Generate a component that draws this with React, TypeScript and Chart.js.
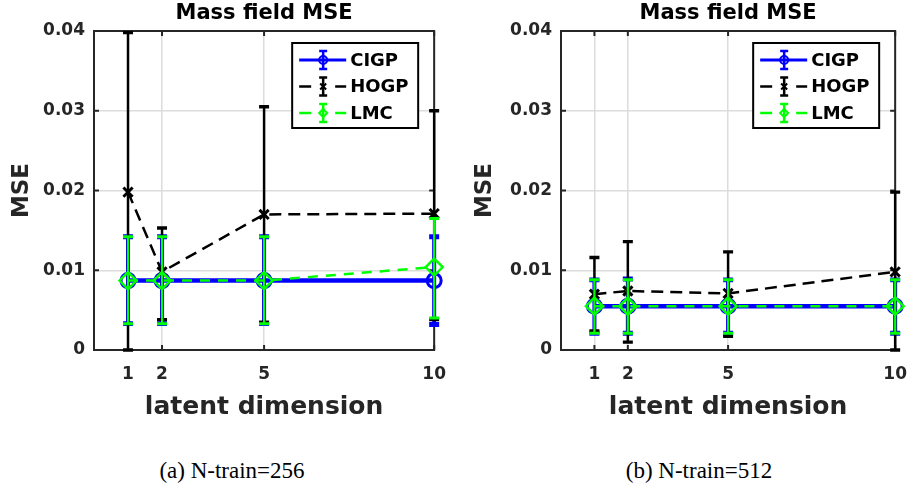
import React, { useEffect, useRef } from 'react';
import { Chart, registerables } from 'chart.js';

Chart.register(...registerables);

// ---------------- data ----------------
const latentDims = [1, 2, 5, 10];
const xTickValues = [1, 2, 5, 10];
const seriesNames = ['CIGP', 'HOGP', 'LMC'];
const chartTitle = 'Mass field MSE';
const xAxisTitle = 'latent dimension';
const yAxisTitle = 'MSE';

// N-train = 256
const cigp256Mean = [0.0087, 0.0087, 0.0087, 0.0087];
const cigp256Low = [0.0033, 0.0033, 0.0033, 0.0032];
const cigp256High = [0.0142, 0.0142, 0.0142, 0.0142];
const hogp256Mean = [0.0198, 0.0098, 0.017, 0.0171];
const hogp256Low = [0.0, 0.0038, 0.0035, 0.0038];
const hogp256High = [0.0398, 0.0153, 0.0305, 0.03];
const lmc256Mean = [0.0087, 0.0087, 0.0087, 0.0104];
const lmc256Low = [0.0033, 0.0033, 0.0033, 0.004];
const lmc256High = [0.0142, 0.0142, 0.0142, 0.0165];

// N-train = 512
const cigp512Mean = [0.0055, 0.0055, 0.0055, 0.0055];
const cigp512Low = [0.0021, 0.0021, 0.0021, 0.0021];
const cigp512High = [0.0088, 0.0089, 0.0088, 0.0088];
const hogp512Mean = [0.007, 0.0074, 0.0071, 0.0098];
const hogp512Low = [0.0024, 0.001, 0.0017, 0.0];
const hogp512High = [0.0116, 0.0136, 0.0123, 0.0198];
const lmc512Mean = [0.0055, 0.0055, 0.0055, 0.0055];
const lmc512Low = [0.0021, 0.0021, 0.0021, 0.0021];
const lmc512High = [0.0088, 0.0088, 0.0088, 0.0088];

const captionA = '(a) N-train=256';
const captionB = '(b) N-train=512';

// ---------------- styling ----------------
const FONT = "'DejaVu Sans', sans-serif";
const CANVAS_H = 430;
const STYLES = [
  { color: '#0000ff', width: 4.5, errWidth: 4, dashed: false, dash: [] as number[], point: 'circle', radius: 7, pbw: 3, order: 2 },
  { color: '#000000', width: 2.5, errWidth: 2.5, dashed: true, dash: [12, 7], point: 'crossRot', radius: 6.5, pbw: 3, order: 1 },
  { color: '#00ff00', width: 2.5, errWidth: 2.2, dashed: true, dash: [10, 8], point: 'rectRot', radius: 8.5, pbw: 2.5, order: 0 },
];

type Series = { mean: number[]; low: number[]; high: number[] };

function drawMarker(ctx: CanvasRenderingContext2D, style: string, x: number, y: number, r: number) {
  ctx.beginPath();
  if (style === 'circle') {
    ctx.arc(x, y, r, 0, Math.PI * 2);
  } else if (style === 'rectRot') {
    ctx.moveTo(x, y - r);
    ctx.lineTo(x + r, y);
    ctx.lineTo(x, y + r);
    ctx.lineTo(x - r, y);
    ctx.closePath();
  } else {
    const d = r * 0.75;
    ctx.moveTo(x - d, y - d);
    ctx.lineTo(x + d, y + d);
    ctx.moveTo(x + d, y - d);
    ctx.lineTo(x - d, y + d);
  }
  ctx.stroke();
}

const errorBarPlugin = {
  id: 'errorBars',
  afterDatasetDraw(chart: any, args: any) {
    const ds = chart.data.datasets[args.index];
    const ys = chart.scales.y;
    const ctx = chart.ctx as CanvasRenderingContext2D;
    ctx.save();
    ctx.strokeStyle = ds.borderColor;
    ctx.setLineDash([]);
    args.meta.data.forEach((pt: any, i: number) => {
      const x = pt.x;
      const yHi = ys.getPixelForValue(ds.errHigh[i]);
      const yLo = ys.getPixelForValue(ds.errLow[i]);
      ctx.lineWidth = ds.errWidth;
      ctx.beginPath();
      ctx.moveTo(x, yLo);
      ctx.lineTo(x, yHi);
      ctx.stroke();
      ctx.lineWidth = ds.errWidth + 0.8;
      ctx.beginPath();
      ctx.moveTo(x - 5, yLo);
      ctx.lineTo(x + 5, yLo);
      ctx.moveTo(x - 5, yHi);
      ctx.lineTo(x + 5, yHi);
      ctx.stroke();
    });
    ctx.restore();
  },
};

const framePlugin = {
  id: 'frame',
  beforeDatasetsDraw(chart: any) {
    const { ctx, chartArea } = chart;
    const { left, right, top, bottom } = chartArea;
    ctx.save();
    ctx.strokeStyle = '#262626';
    ctx.lineWidth = 2;
    ctx.setLineDash([]);
    ctx.strokeRect(left, top, right - left, bottom - top);
    const tl = 5;
    ctx.beginPath();
    chart.scales.x.ticks.forEach((t: any) => {
      const x = chart.scales.x.getPixelForValue(t.value);
      ctx.moveTo(x, bottom);
      ctx.lineTo(x, bottom - tl);
      ctx.moveTo(x, top);
      ctx.lineTo(x, top + tl);
    });
    chart.scales.y.ticks.forEach((t: any) => {
      const y = chart.scales.y.getPixelForValue(t.value);
      ctx.moveTo(left, y);
      ctx.lineTo(left + tl, y);
      ctx.moveTo(right, y);
      ctx.lineTo(right - tl, y);
    });
    ctx.stroke();
    ctx.restore();
  },
};

const overlayPlugin = {
  id: 'overlay',
  afterDraw(chart: any) {
    const { ctx, chartArea } = chart;
    ctx.save();
    // title
    ctx.fillStyle = '#000';
    ctx.font = `bold 21px ${FONT}`;
    ctx.textAlign = 'center';
    ctx.textBaseline = 'middle';
    ctx.fillText(chartTitle, (chartArea.left + chartArea.right) / 2, 14);

    // legend
    const w = 126;
    const h = 85;
    const x0 = chartArea.right - 16 - w;
    const y0 = chartArea.top + 12;
    ctx.fillStyle = '#fff';
    ctx.fillRect(x0, y0, w, h);
    ctx.strokeStyle = '#000';
    ctx.lineWidth = 2;
    ctx.strokeRect(x0, y0, w, h);
    chart.data.datasets.forEach((ds: any, k: number) => {
      const st = STYLES[k];
      const y = y0 + 17 + k * 26.5;
      const mx = x0 + 31;
      ctx.strokeStyle = st.color;
      ctx.setLineDash([]);
      ctx.lineWidth = st.dashed ? 2.5 : 3;
      ctx.beginPath();
      if (st.dashed) {
        ctx.moveTo(x0 + 7, y);
        ctx.lineTo(x0 + 19, y);
        ctx.moveTo(x0 + 43, y);
        ctx.lineTo(x0 + 54, y);
      } else {
        ctx.moveTo(x0 + 7, y);
        ctx.lineTo(x0 + 54, y);
      }
      ctx.stroke();
      // error bar icon
      ctx.lineWidth = 2.5;
      ctx.beginPath();
      ctx.moveTo(mx, y - 9);
      ctx.lineTo(mx, y + 9);
      ctx.moveTo(mx - 4, y - 9);
      ctx.lineTo(mx + 4, y - 9);
      ctx.moveTo(mx - 4, y + 9);
      ctx.lineTo(mx + 4, y + 9);
      ctx.stroke();
      ctx.lineWidth = 2;
      drawMarker(ctx, st.point, mx, y, 4);
      ctx.fillStyle = '#000';
      ctx.font = `bold 18px ${FONT}`;
      ctx.textAlign = 'left';
      ctx.textBaseline = 'middle';
      ctx.fillText(ds.label, x0 + 58, y + 1);
    });
    ctx.restore();
  },
};

function buildConfig(series: Series[], yAxisWidth: number, rightPad: number, yTitlePad: number): any {
  const datasets = series.map((s, k) => ({
    label: seriesNames[k],
    data: latentDims.map((d, i) => ({ x: d, y: s.mean[i] })),
    errLow: s.low,
    errHigh: s.high,
    errWidth: STYLES[k].errWidth,
    borderColor: STYLES[k].color,
    backgroundColor: 'rgba(0,0,0,0)',
    borderWidth: STYLES[k].width,
    borderDash: STYLES[k].dash,
    pointStyle: STYLES[k].point,
    pointRadius: STYLES[k].radius,
    pointBorderWidth: STYLES[k].pbw,
    pointBorderColor: STYLES[k].color,
    pointBackgroundColor: 'rgba(0,0,0,0)',
    order: STYLES[k].order,
    clip: false,
    tension: 0,
    fill: false,
  }));
  return {
    type: 'line',
    data: { datasets },
    plugins: [framePlugin, errorBarPlugin, overlayPlugin],
    options: {
      animation: false,
      responsive: false,
      devicePixelRatio: 1,
      layout: { padding: { top: 31, right: rightPad, bottom: 0, left: 0 }, autoPadding: false },
      plugins: { legend: { display: false }, title: { display: false }, tooltip: { enabled: false } },
      scales: {
        x: {
          type: 'linear',
          min: 0,
          max: 10,
          afterBuildTicks: (s: any) => {
            s.ticks = xTickValues.map((v) => ({ value: v }));
          },
          afterFit: (s: any) => {
            s.height = CANVAS_H - 350;
          },
          grid: { color: '#dcdcdc', lineWidth: 1.5, drawTicks: false },
          border: { display: false },
          ticks: {
            padding: 14,
            color: '#262626',
            maxRotation: 0,
            autoSkip: false,
            font: { family: FONT, size: 17, weight: 'bold' },
            callback: (v: any) => String(v),
          },
          title: {
            display: true,
            text: xAxisTitle,
            color: '#262626',
            font: { family: FONT, size: 25, weight: 'bold' },
            padding: { top: 0, bottom: 8 },
          },
        },
        y: {
          min: 0,
          max: 0.04,
          afterFit: (s: any) => {
            s.width = yAxisWidth;
          },
          grid: { color: '#dcdcdc', lineWidth: 1.5, drawTicks: false },
          border: { display: false },
          ticks: {
            stepSize: 0.01,
            padding: 9,
            color: '#262626',
            font: { family: FONT, size: 17, weight: 'bold' },
            callback: (v: any) => (Number(v) === 0 ? '0' : Number(v).toFixed(2)),
          },
          title: {
            display: true,
            text: yAxisTitle,
            color: '#262626',
            font: { family: FONT, size: 23, weight: 'bold' },
            padding: { top: yTitlePad, bottom: 0 },
          },
        },
      },
    },
  };
}

function Panel(props: {
  left: number;
  width: number;
  series: Series[];
  yAxisWidth: number;
  rightPad: number;
  yTitlePad: number;
  caption: string;
  captionCenter: number;
}) {
  const ref = useRef<HTMLCanvasElement | null>(null);
  useEffect(() => {
    if (!ref.current) return;
    const chart = new Chart(ref.current, buildConfig(props.series, props.yAxisWidth, props.rightPad, props.yTitlePad));
    return () => chart.destroy();
  }, []);
  return (
    <>
      <canvas
        ref={ref}
        width={props.width}
        height={CANVAS_H}
        style={{ position: 'absolute', left: props.left, top: 0, width: props.width, height: CANVAS_H }}
      />
      <div
        style={{
          position: 'absolute',
          left: props.captionCenter,
          top: 458,
          transform: 'translateX(-50%)',
          whiteSpace: 'nowrap',
          fontFamily: "'Liberation Serif', serif",
          fontSize: 23,
          color: '#000',
        }}
      >
        {props.caption}
      </div>
    </>
  );
}

export default function App() {
  const series256: Series[] = [
    { mean: cigp256Mean, low: cigp256Low, high: cigp256High },
    { mean: hogp256Mean, low: hogp256Low, high: hogp256High },
    { mean: lmc256Mean, low: lmc256Low, high: lmc256High },
  ];
  const series512: Series[] = [
    { mean: cigp512Mean, low: cigp512Low, high: cigp512High },
    { mean: hogp512Mean, low: hogp512Low, high: hogp512High },
    { mean: lmc512Mean, low: lmc512Low, high: lmc512High },
  ];
  return (
    <div style={{ position: 'absolute', left: 0, top: 0, width: 921, height: 494, background: '#fff', overflow: 'hidden' }}>
      <Panel left={0} width={460} series={series256} yAxisWidth={94} rightPad={18} yTitlePad={8} caption={captionA} captionCenter={232} />
      <Panel left={460} width={461} series={series512} yAxisWidth={101} rightPad={15} yTitlePad={11} caption={captionB} captionCenter={699} />
    </div>
  );
}
